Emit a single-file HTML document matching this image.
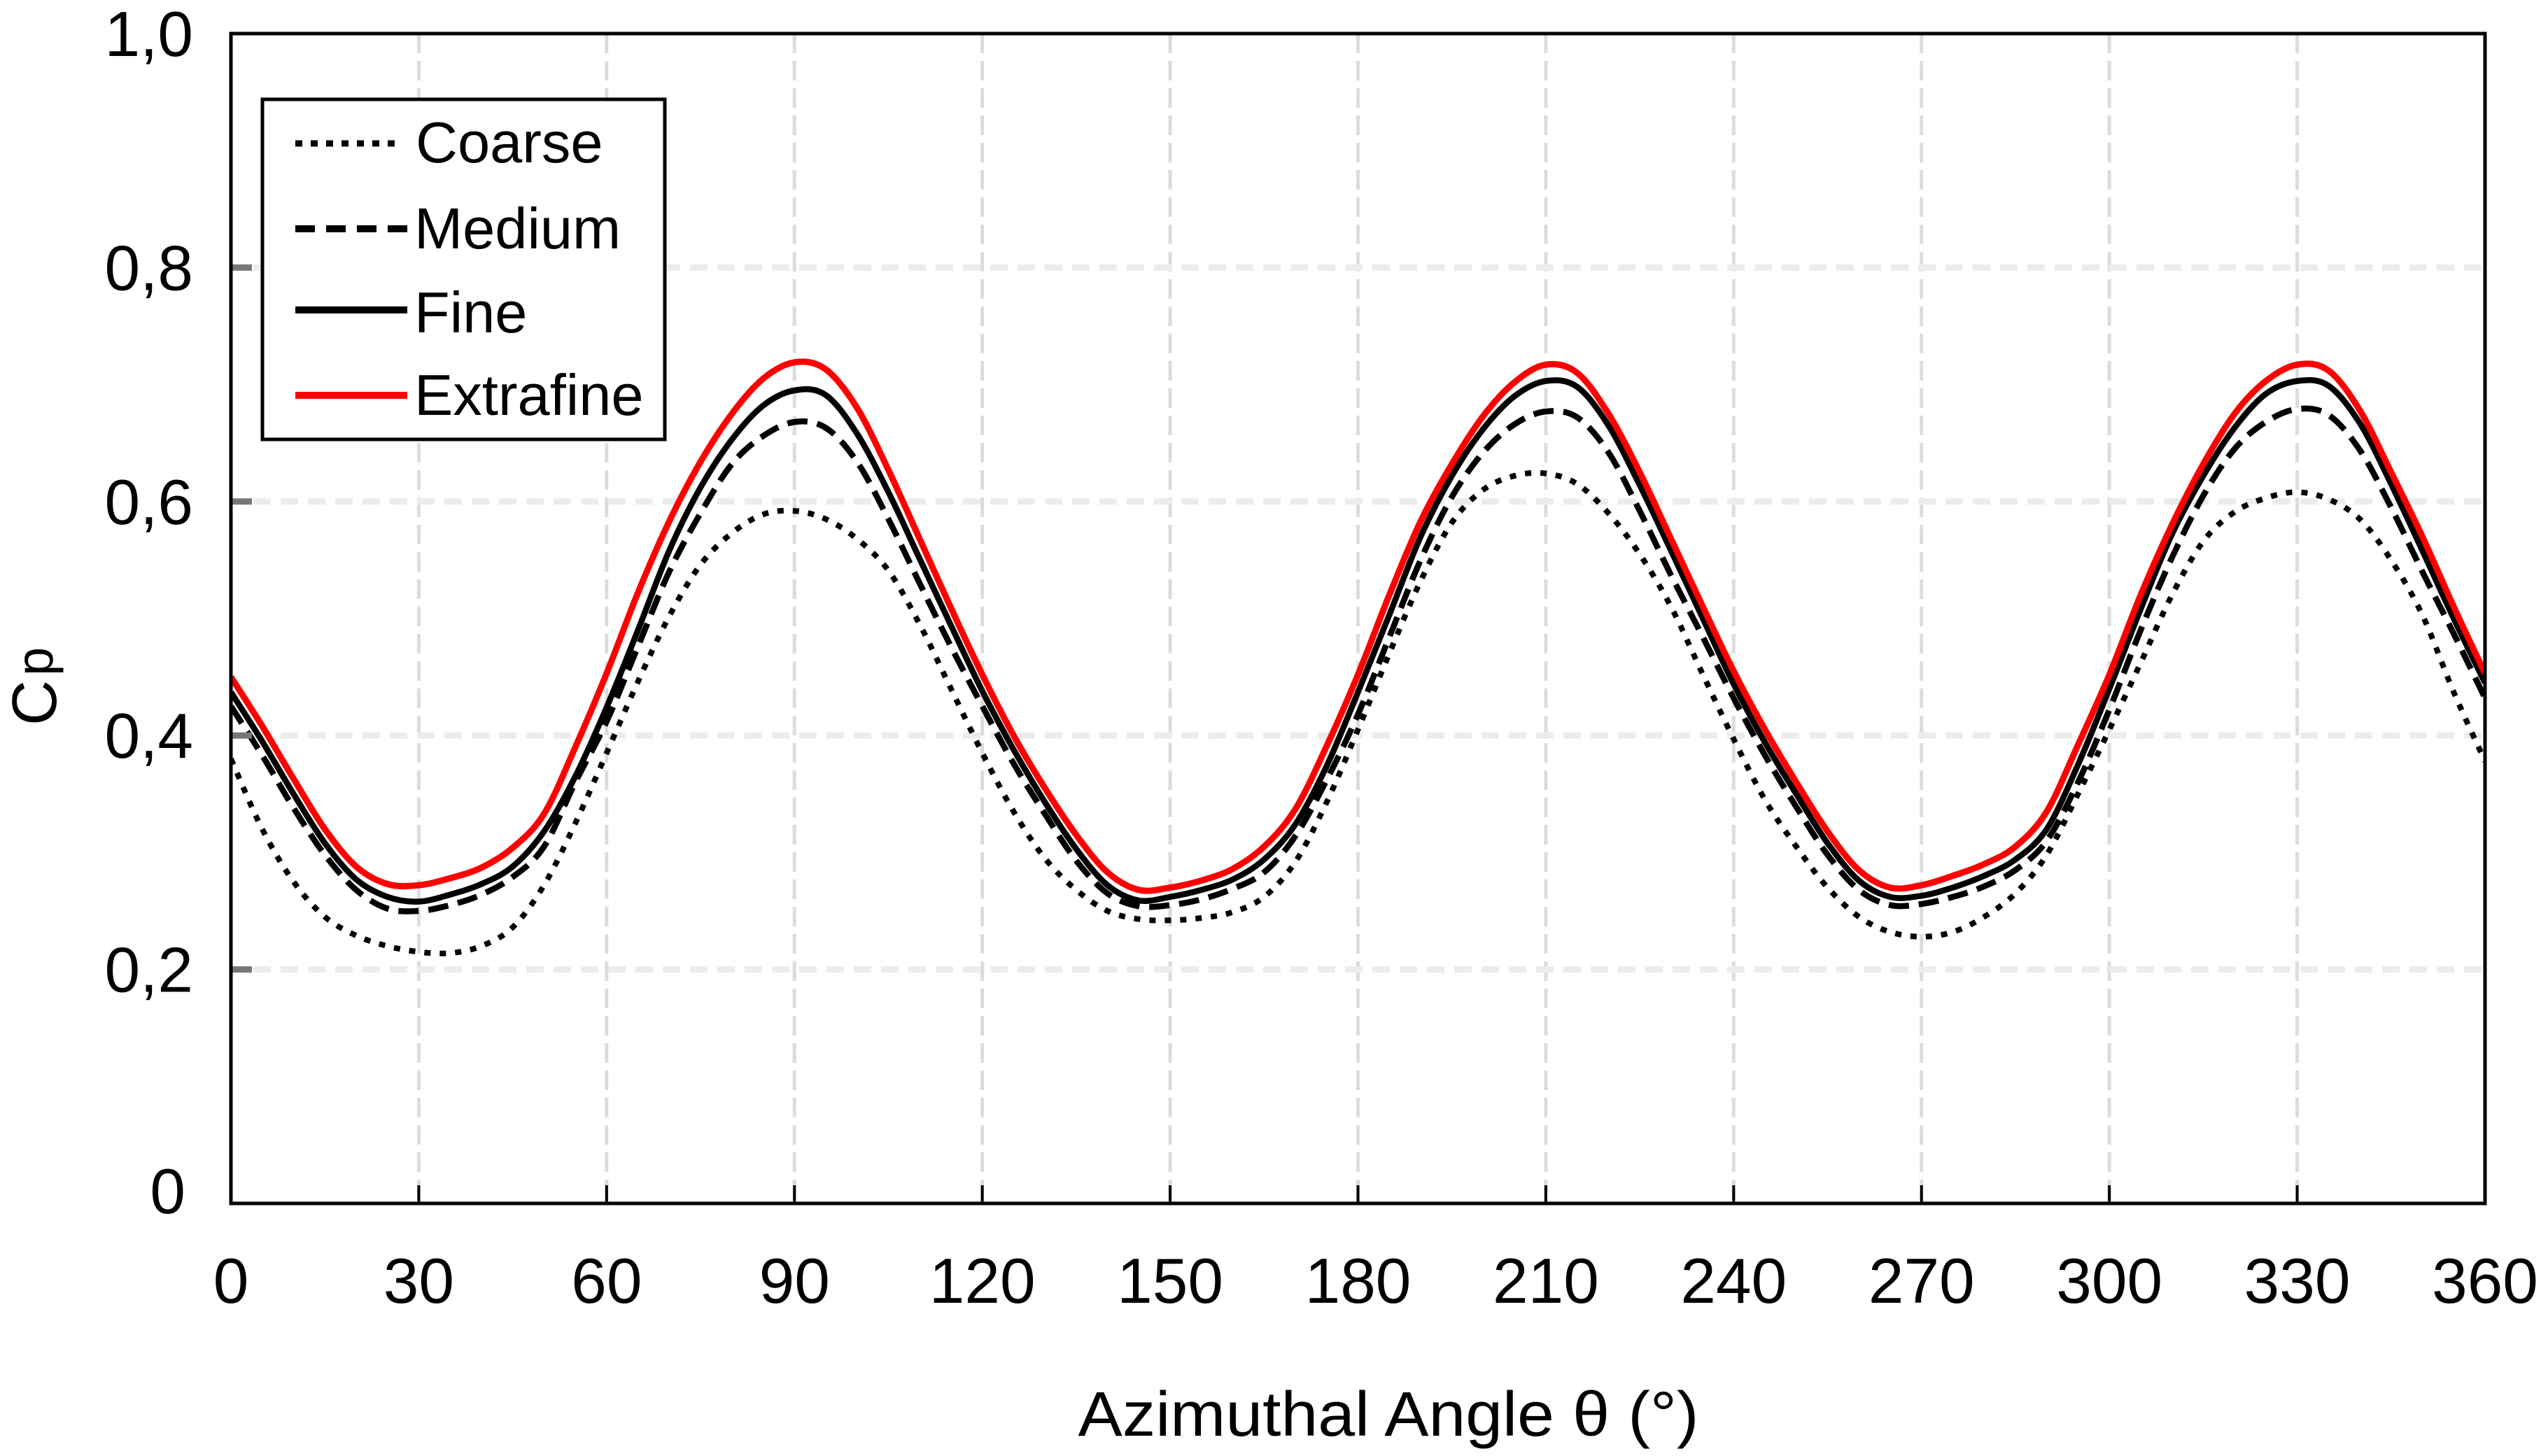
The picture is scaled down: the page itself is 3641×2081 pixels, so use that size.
<!DOCTYPE html>
<html lang="en">
<head>
<meta charset="utf-8">
<title>Cp vs Azimuthal Angle</title>
<style>
html,body{margin:0;padding:0;background:#fff;}
svg{display:block;}
text{font-family:"Liberation Sans",Arial,sans-serif;fill:#000;}
</style>
</head>
<body>
<svg id="chart" xmlns="http://www.w3.org/2000/svg" width="3641" height="2081" viewBox="0 0 3641 2081">
  <defs><clipPath id="plot-clip"><rect x="330" y="48" width="3221" height="1672"/></clipPath></defs>
  <rect x="0" y="0" width="3641" height="2081" fill="#fff"/>
  <g id="grid"></g>
  <g id="series" clip-path="url(#plot-clip)"></g>
  <g id="ticks"></g>
  <rect x="330" y="48" width="3221" height="1672" fill="none" stroke="#000" stroke-width="5"/>
  <g id="tick-labels"></g>
  <text x="1984" y="2052" font-size="90" text-anchor="middle" textLength="887" lengthAdjust="spacingAndGlyphs">Azimuthal Angle θ (°)</text>
  <text transform="translate(80,1037) rotate(-90)" font-size="90">C<tspan font-size="74" dx="6" dy="-5">p</tspan></text>
  <g>
    <rect x="375" y="142" width="575" height="486" fill="#fff" stroke="#000" stroke-width="5"/>
    <line x1="422" y1="205" x2="567" y2="205" stroke="#000" stroke-width="9" stroke-dasharray="10 12"/>
    <text x="594" y="232" font-size="83">Coarse</text>
    <line x1="422" y1="327" x2="582" y2="327" stroke="#000" stroke-width="10" stroke-dasharray="28 16"/>
    <text x="592" y="355" font-size="83">Medium</text>
    <line x1="422" y1="443" x2="582" y2="443" stroke="#000" stroke-width="10"/>
    <text x="592" y="475" font-size="83">Fine</text>
    <line x1="422" y1="565" x2="582" y2="565" stroke="#f00" stroke-width="10"/>
    <text x="592" y="593" font-size="83">Extrafine</text>
  </g>
</svg>
<script>
const angles = [0,5,10,15,20,25,30,35,40,45,50,55,60,65,70,75,80,85,90,95,100,105,110,115,120,125,130,135,140,145,150,155,160,165,170,175,180,185,190,195,200,205,210,215,220,225,230,235,240,245,250,255,260,265,270,275,280,285,290,295,300,305,310,315,320,325,330,335,340,345,350,355,360];
const coarse = [0.380,0.320,0.275,0.245,0.229,0.220,0.215,0.214,0.220,0.236,0.272,0.325,0.385,0.446,0.502,0.546,0.573,0.589,0.592,0.585,0.568,0.541,0.495,0.440,0.385,0.335,0.295,0.268,0.250,0.243,0.242,0.244,0.249,0.262,0.292,0.343,0.405,0.470,0.532,0.582,0.610,0.622,0.624,0.615,0.590,0.555,0.510,0.453,0.397,0.345,0.305,0.270,0.245,0.232,0.228,0.232,0.245,0.265,0.298,0.350,0.405,0.462,0.520,0.566,0.591,0.603,0.608,0.602,0.585,0.550,0.503,0.437,0.378];
const medium = [0.425,0.383,0.338,0.298,0.268,0.252,0.250,0.255,0.264,0.279,0.305,0.360,0.412,0.476,0.540,0.590,0.632,0.656,0.668,0.663,0.634,0.585,0.530,0.476,0.425,0.376,0.333,0.293,0.265,0.254,0.255,0.260,0.269,0.283,0.314,0.362,0.418,0.484,0.550,0.604,0.642,0.666,0.677,0.672,0.642,0.592,0.537,0.485,0.432,0.383,0.339,0.298,0.268,0.255,0.256,0.262,0.271,0.285,0.310,0.360,0.422,0.490,0.552,0.605,0.645,0.668,0.679,0.674,0.644,0.595,0.540,0.487,0.432];
const fine = [0.437,0.395,0.350,0.308,0.277,0.262,0.258,0.264,0.273,0.288,0.318,0.365,0.424,0.490,0.558,0.612,0.653,0.682,0.695,0.691,0.658,0.608,0.551,0.494,0.438,0.388,0.343,0.303,0.272,0.259,0.262,0.268,0.277,0.294,0.324,0.374,0.437,0.503,0.570,0.622,0.662,0.690,0.703,0.698,0.665,0.614,0.558,0.501,0.444,0.394,0.350,0.308,0.276,0.262,0.263,0.270,0.280,0.294,0.320,0.375,0.440,0.508,0.572,0.622,0.663,0.692,0.703,0.699,0.667,0.615,0.558,0.500,0.445];
const extrafine = [0.450,0.408,0.363,0.320,0.288,0.273,0.272,0.278,0.287,0.304,0.333,0.390,0.453,0.522,0.583,0.634,0.675,0.705,0.719,0.713,0.680,0.627,0.568,0.509,0.452,0.400,0.355,0.315,0.283,0.268,0.270,0.276,0.286,0.305,0.337,0.391,0.452,0.520,0.583,0.632,0.673,0.702,0.717,0.710,0.675,0.625,0.568,0.511,0.455,0.405,0.360,0.318,0.285,0.270,0.272,0.280,0.290,0.305,0.335,0.392,0.452,0.520,0.580,0.632,0.675,0.703,0.717,0.712,0.678,0.625,0.570,0.510,0.453];
const xTickValues = [0,30,60,90,120,150,180,210,240,270,300,330,360];
const xTickLabels = ['0','30','60','90','120','150','180','210','240','270','300','330','360'];
const yTickValues = [0,0.2,0.4,0.6,0.8,1];
const yTickLabels = ['0','0,2','0,4','0,6','0,8','1,0'];

const NS = 'http://www.w3.org/2000/svg';
const plotLeft = 330, plotRight = 3551, plotTop = 48, plotBottom = 1720;
function xScale(v){ return plotLeft + (v / 360) * (plotRight - plotLeft); }
function yScale(v){ return plotBottom - v * (plotBottom - plotTop); }
function make(tag, attrs){
  const el = document.createElementNS(NS, tag);
  for (const k in attrs) el.setAttribute(k, attrs[k]);
  return el;
}
function curvePath(xs, ys){
  const p = xs.map((x, i) => [xScale(x), yScale(ys[i])]);
  let d = 'M' + p[0][0].toFixed(1) + ' ' + p[0][1].toFixed(1);
  for (let i = 0; i < p.length - 1; i++) {
    const a = p[Math.max(i - 1, 0)], b = p[i], c = p[i + 1], e = p[Math.min(i + 2, p.length - 1)];
    const c1x = b[0] + (c[0] - a[0]) / 6, c1y = b[1] + (c[1] - a[1]) / 6;
    const c2x = c[0] - (e[0] - b[0]) / 6, c2y = c[1] - (e[1] - b[1]) / 6;
    d += 'C' + c1x.toFixed(1) + ' ' + c1y.toFixed(1) + ' ' + c2x.toFixed(1) + ' ' + c2y.toFixed(1) + ' ' + c[0].toFixed(1) + ' ' + c[1].toFixed(1);
  }
  return d;
}

const gridG = document.getElementById('grid');
const ticksG = document.getElementById('ticks');
const labelsG = document.getElementById('tick-labels');

xTickValues.forEach((v, i) => {
  const px = xScale(v);
  if (i > 0 && i < xTickValues.length - 1) {
    const g = make('line', {x1: px, y1: plotTop, x2: px, y2: plotBottom, stroke: '#dcdcdc', 'stroke-width': 5, 'stroke-dasharray': '28 11'});
    
    
    gridG.appendChild(g);
    const t = make('line', {x1: px, y1: plotBottom - 26, x2: px, y2: plotBottom, stroke: '#000', 'stroke-width': 4});
    
    
    ticksG.appendChild(t);
  }
  const lab = make('text', {x: px, y: 1862, 'font-size': 91, 'text-anchor': 'middle'});
  
  
  lab.textContent = xTickLabels[i];
  labelsG.appendChild(lab);
});

yTickValues.forEach((v, i) => {
  const py = yScale(v);
  if (i > 0 && i < yTickValues.length - 1) {
    const g = make('line', {x1: plotLeft + 32, y1: py, x2: plotRight, y2: py, stroke: '#ececec', 'stroke-width': 9, 'stroke-dasharray': '25 14'});
    
    
    gridG.appendChild(g);
    const t = make('line', {x1: plotLeft, y1: py, x2: plotLeft + 30, y2: py, stroke: '#777', 'stroke-width': 9});
    
    
    ticksG.appendChild(t);
  }
  const isZero = v === 0;
  const lab = make('text', {x: isZero ? 265 : 276, y: isZero ? 1734 : py + 32, 'font-size': 91, 'text-anchor': 'end'});
  
  
  lab.textContent = yTickLabels[i];
  labelsG.appendChild(lab);
});

const seriesG = document.getElementById('series');
const coarsePath = make('path', {d: curvePath(angles, coarse), fill: 'none', stroke: '#000', 'stroke-width': 8, 'stroke-dasharray': '9 13'});


seriesG.appendChild(coarsePath);
const mediumPath = make('path', {d: curvePath(angles, medium), fill: 'none', stroke: '#000', 'stroke-width': 8.5, 'stroke-dasharray': '29 14'});


seriesG.appendChild(mediumPath);
const finePath = make('path', {d: curvePath(angles, fine), fill: 'none', stroke: '#000', 'stroke-width': 8.5});


seriesG.appendChild(finePath);
const extrafinePath = make('path', {d: curvePath(angles, extrafine), fill: 'none', stroke: '#f00', 'stroke-width': 9});


seriesG.appendChild(extrafinePath);
</script>
</body>
</html>
